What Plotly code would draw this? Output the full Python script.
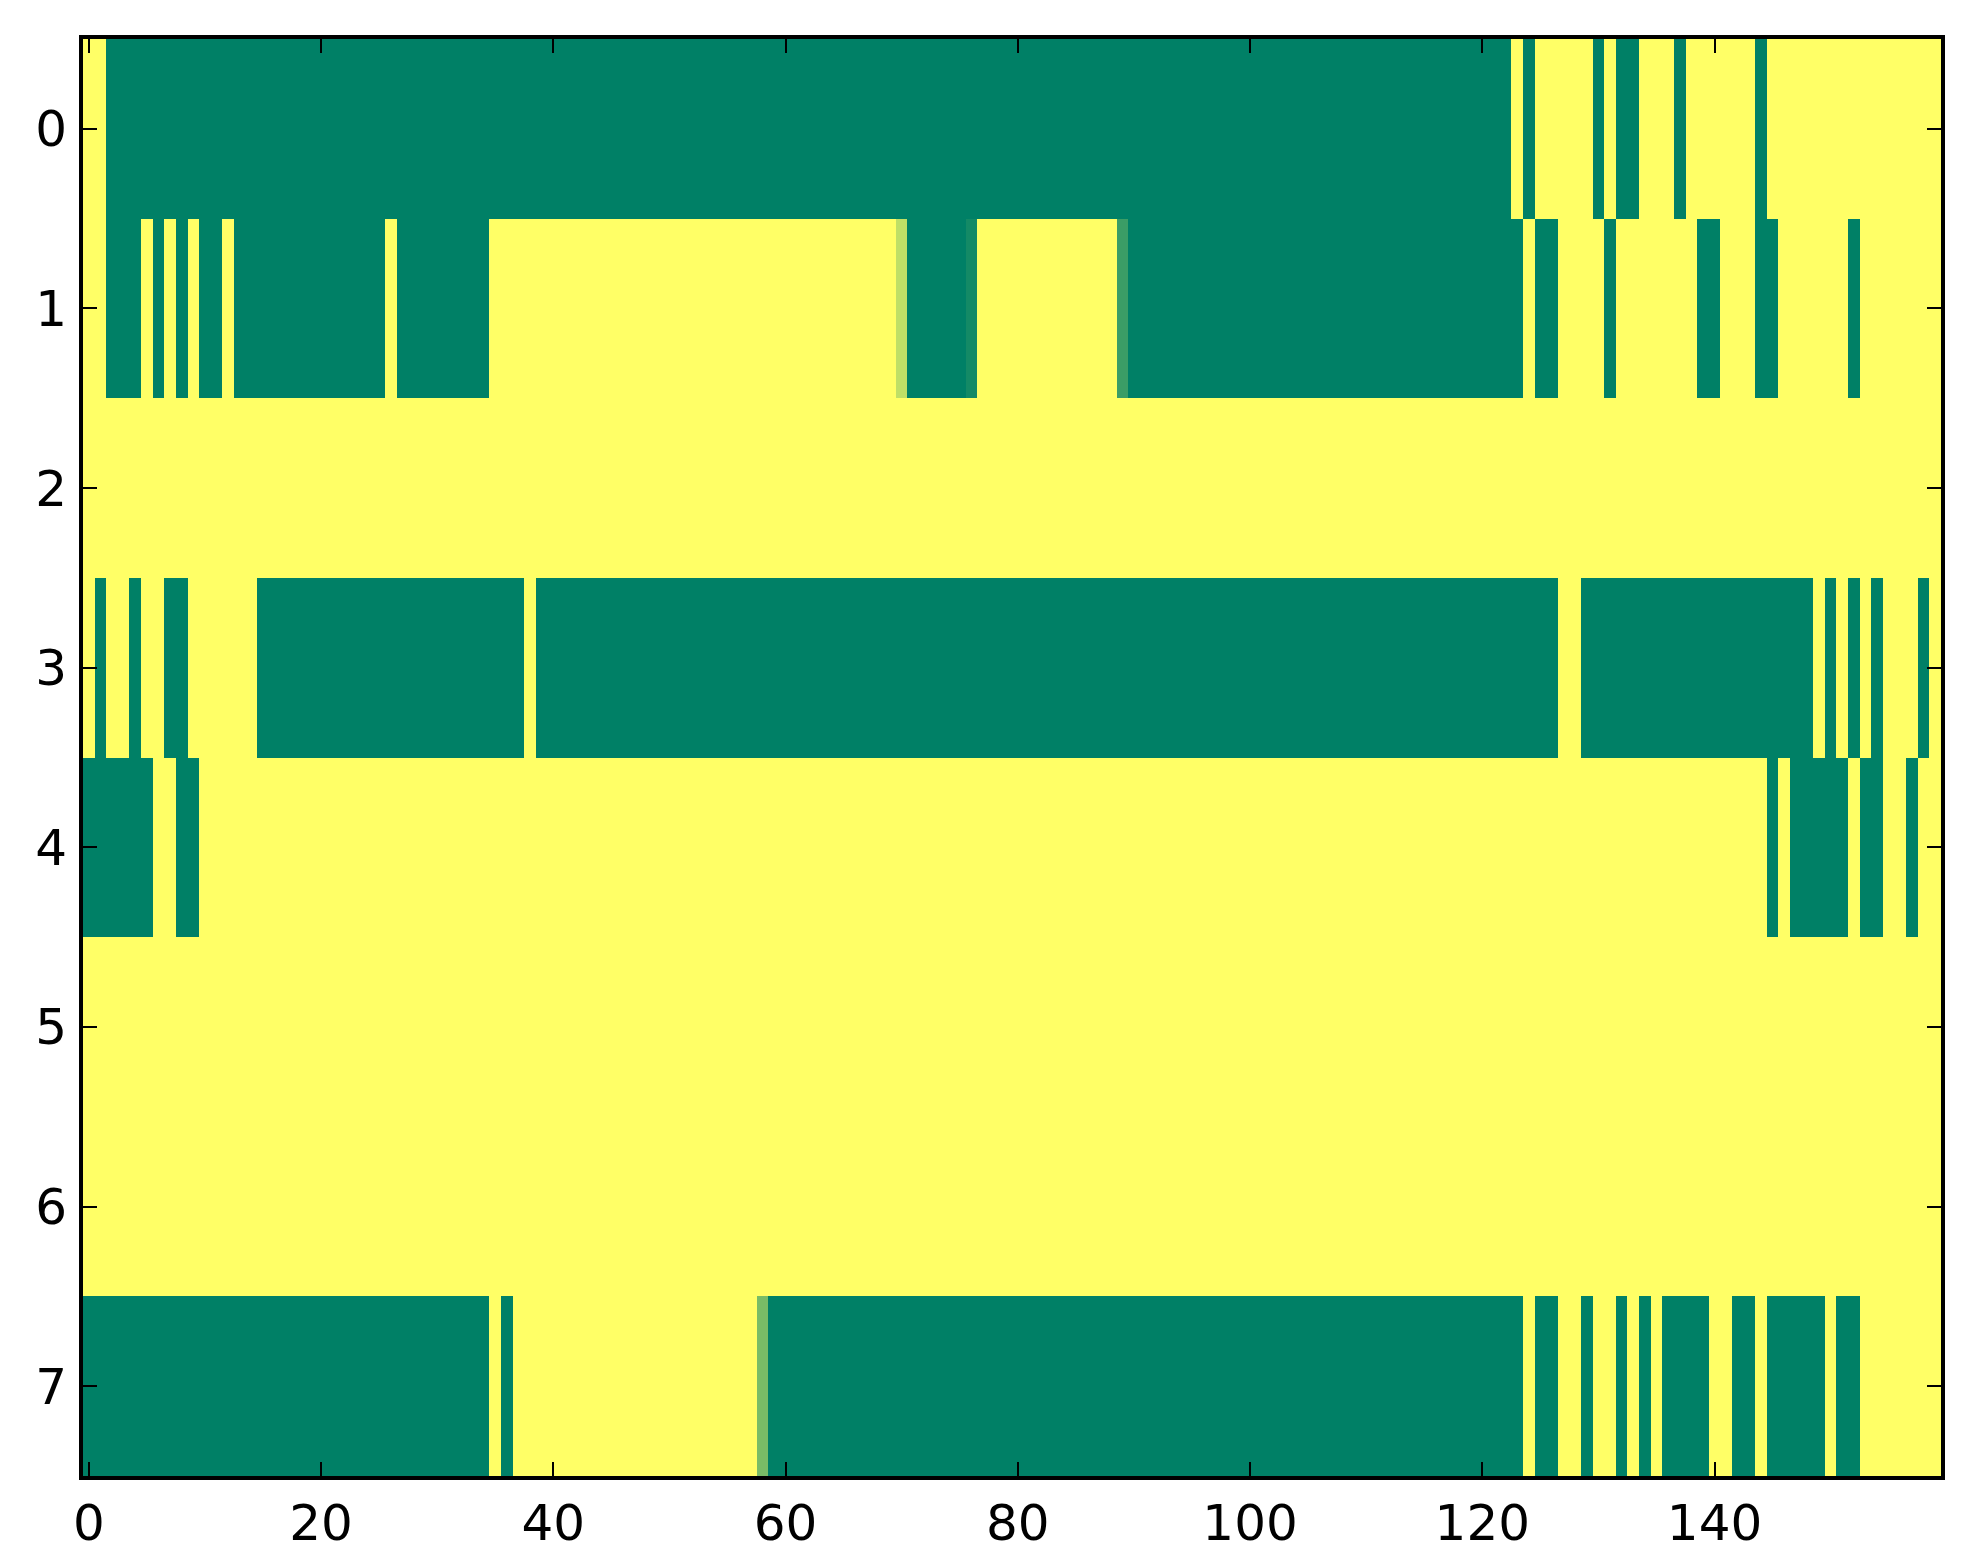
import plotly.graph_objects as go

# heatmap rows as (value, run length) pairs, 160 columns each
# 1 = yellow, 0 = green, fractions are the in-between cells
row_0 = [(1, 2), (0, 121), (1, 1), (0, 1), (1, 5), (0, 1), (1, 1), (0, 2),
         (1, 3), (0, 1), (1, 6), (0, 1), (1, 15)]
row_1 = [(1, 2), (0, 3), (1, 1), (0, 1), (1, 1), (0, 1), (1, 1), (0, 2),
         (1, 1), (0, 13), (1, 1), (0, 8), (1, 35), (0.75, 1), (0, 5),
         (0.08, 1), (1, 12), (0.23, 1), (0, 34), (1, 1), (0, 2), (1, 4),
         (0, 1), (1, 7), (0, 2), (1, 3), (0, 2), (1, 6), (0, 1), (1, 7)]
row_2 = [(1, 160)]
row_3 = [(1, 1), (0, 1), (1, 2), (0, 1), (1, 2), (0, 2), (1, 6), (0, 23),
         (1, 1), (0, 88), (1, 2), (0, 20), (1, 1), (0, 1), (1, 1), (0, 1),
         (1, 1), (0, 1), (1, 3), (0, 1), (1, 1)]
row_4 = [(0, 6), (1, 2), (0, 2), (1, 135), (0, 1), (1, 1), (0, 5), (1, 1),
         (0, 2), (1, 2), (0, 1), (1, 2)]
row_5 = [(1, 160)]
row_6 = [(1, 160)]
row_7 = [(0, 35), (1, 1), (0, 1), (1, 21), (0.47, 1), (0, 65), (1, 1), (0, 2),
         (1, 2), (0, 1), (1, 2), (0, 1), (1, 1), (0, 1), (1, 1), (0, 4),
         (1, 2), (0, 2), (1, 1), (0, 5), (1, 1), (0, 2), (1, 7)]

rows = [row_0, row_1, row_2, row_3, row_4, row_5, row_6, row_7]


def expand(runs):
    out = []
    for val, n in runs:
        out += [val] * n
    return out


z = [expand(r) for r in rows]
n_cols = len(z[0])

# matplotlib "summer" colormap
summer = [[0, "rgb(0,128,102)"], [1, "rgb(255,255,102)"]]

fig = go.Figure(go.Heatmap(
    z=z,
    x=list(range(n_cols)),
    y=list(range(len(z))),
    colorscale=summer,
    zmin=0, zmax=1,
    showscale=False,
    hoverinfo="skip",
))

axis_style = dict(
    showline=True, linecolor="black", linewidth=4, mirror="allticks",
    ticks="inside", ticklen=14, tickwidth=2, tickcolor="black",
    showgrid=False, zeroline=False,
    tickfont=dict(family="DejaVu Sans", size=50, color="black"),
)

fig.update_xaxes(range=[-0.5, n_cols - 0.5], tickmode="linear", tick0=0, dtick=20,
                 ticklabelstandoff=0, **axis_style)
fig.update_yaxes(range=[len(z) - 0.5, -0.5], tickmode="linear", tick0=0, dtick=1,
                 ticklabelstandoff=2, **axis_style)

fig.update_layout(
    width=1963, height=1564,
    margin=dict(l=75, r=30, t=31, b=96),
    paper_bgcolor="white", plot_bgcolor="white",
)

fig.write_html("out.html")
